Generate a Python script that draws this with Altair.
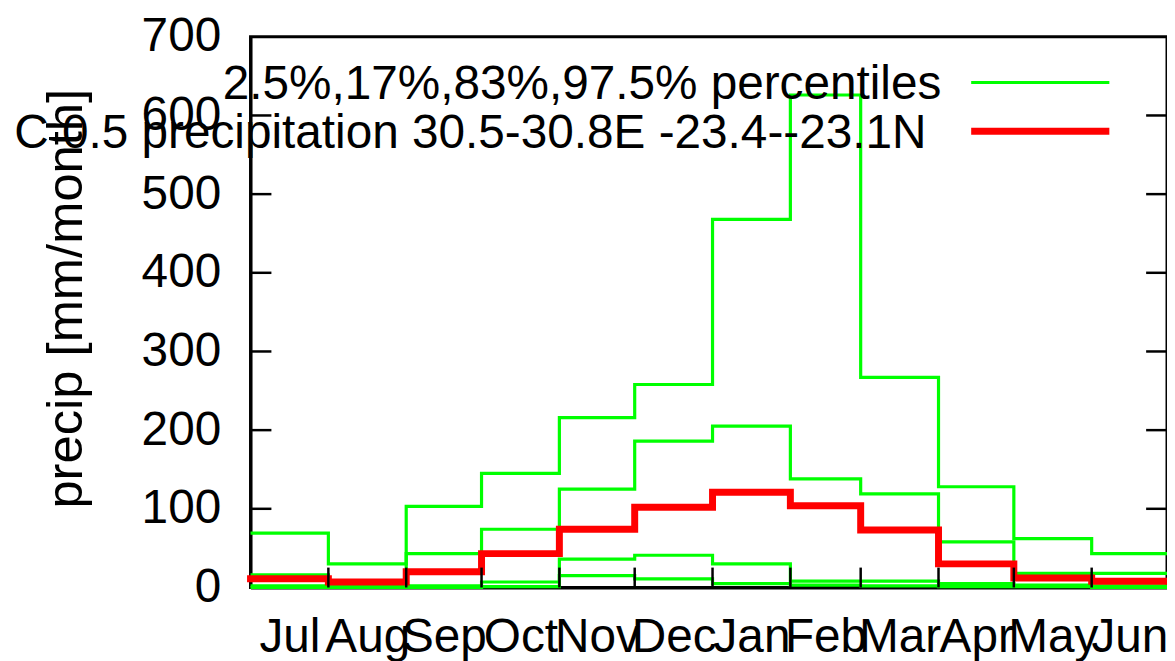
import json
import altair as alt
import pandas as pd

# ---- data ----
months = ["Jul", "Aug", "Sep", "Oct", "Nov", "Dec", "Jan", "Feb", "Mar", "Apr", "May", "Jun"]
month_days = [31, 31, 30, 31, 30, 31, 31, 28, 31, 30, 31, 30]

p2_5 = [0, 0, 0, 1, 15, 11, 5, 3, 2, 1, 1, 0]
p17 = [2, 1, 2, 7, 36, 41, 30, 8, 8, 5, 3, 2]
p83 = [16, 6, 43, 74, 125, 186, 205, 138, 119, 58, 18, 18]
p97_5 = [69, 30, 103, 145, 216, 258, 468, 626, 267, 128, 62, 43]
obs = [11, 7, 20, 43, 74, 102, 121, 104, 73, 30, 12, 8]

y_ticks = [0, 100, 200, 300, 400, 500, 600, 700]
legend_labels = [
    "2.5%,17%,83%,97.5% percentiles",
    "C 0.5 precipitation 30.5-30.8E -23.4--23.1N",
]

FONT = "Liberation Sans"
FS = 48
W, H = 922, 554

starts = []
acc = 0
for d in month_days:
    starts.append(acc)
    acc += d
total = acc
mids = [s + d / 2 for s, d in zip(starts, month_days)]
bounds = starts[1:]


def steps(name, vals):
    rows = [{"series": name, "day": s, "value": v} for s, v in zip(starts, vals)]
    rows.append({"series": name, "day": total, "value": vals[-1]})
    return rows


green_df = pd.DataFrame(
    steps("p2.5", p2_5) + steps("p17", p17) + steps("p83", p83) + steps("p97.5", p97_5)
)
red_df = pd.DataFrame(steps("obs", obs))

label_expr = "{}[indexof({}, datum.value)]".format(
    json.dumps(months).replace('"', "'"), json.dumps(mids)
)

x_axis = alt.Axis(
    values=mids,
    labelExpr=label_expr,
    ticks=False,
    grid=False,
    title=None,
    labelFontSize=FS,
    labelFont=FONT,
    labelColor="black",
    labelBaseline="alphabetic",
    labelPadding=64,
    labelOverlap=False,
    labelFlush=False,
    labelBound=False,
    domainColor="black",
    domainWidth=3,
)
y_axis = alt.Axis(
    values=y_ticks,
    ticks=False,
    grid=False,
    title="precip [mm/month]",
    titleFontSize=51,
    titleFont=FONT,
    titleFontWeight="normal",
    titleColor="black",
    titleAngle=270,
    titleBaseline="alphabetic",
    titleX=-170,
    titleY=263,
    labelFontSize=FS,
    labelFont=FONT,
    labelColor="black",
    labelPadding=30,
    domainColor="black",
    domainWidth=3,
)

xs = alt.Scale(domain=[0, total], nice=False, zero=False)
ys = alt.Scale(domain=[0, 700], nice=False)


def X(field):
    return alt.X(field, scale=xs, axis=x_axis)


def Y(field):
    return alt.Y(field, scale=ys, axis=y_axis)


green = alt.Chart(green_df).mark_line(
    interpolate="step-after", color="#00ff00", strokeWidth=3.2, clip=False
).encode(x=X("day:Q"), y=Y("value:Q"), detail="series:N")

red = alt.Chart(red_df).mark_line(
    interpolate="step-after", color="#ff0000", strokeWidth=7, strokeCap="square", clip=False
).encode(x=X("day:Q"), y=Y("value:Q"))

ytick_df = pd.DataFrame({"value": y_ticks[1:-1]})
ytick_left = alt.Chart(ytick_df).mark_rule(color="black", strokeWidth=2.5).encode(
    y=Y("value:Q"), x=alt.value(0), x2=alt.value(21)
)
ytick_right = alt.Chart(ytick_df).mark_rule(color="black", strokeWidth=2.5).encode(
    y=Y("value:Q"), x=alt.value(W - 21), x2=alt.value(W)
)
xtick_df = pd.DataFrame({"day": bounds})
xtick = alt.Chart(xtick_df).mark_rule(color="black", strokeWidth=2.5).encode(
    x=X("day:Q"), y=alt.value(H), y2=alt.value(H - 20)
)

leg1_df = pd.DataFrame({"t": [legend_labels[0]]})
leg2_df = pd.DataFrame({"t": [legend_labels[1]]})
leg1_text = alt.Chart(leg1_df).mark_text(
    align="right", baseline="alphabetic", font=FONT, fontSize=FS, color="black"
).encode(text="t:N", x=alt.value(695), y=alt.value(63))
leg2_text = alt.Chart(leg2_df).mark_text(
    align="right", baseline="alphabetic", font=FONT, fontSize=FS, color="black"
).encode(text="t:N", x=alt.value(680), y=alt.value(112))
leg1_line = alt.Chart(leg1_df).mark_rule(color="#00ff00", strokeWidth=3.2).encode(
    x=alt.value(725), x2=alt.value(864), y=alt.value(46)
)
leg2_line = alt.Chart(leg2_df).mark_rule(color="#ff0000", strokeWidth=7).encode(
    x=alt.value(725), x2=alt.value(864), y=alt.value(95)
)

chart = (
    alt.layer(green, red, ytick_left, ytick_right, xtick, leg1_text, leg2_text, leg1_line, leg2_line)
    .properties(
        width=W,
        height=H,
        autosize="none",
        padding={"left": 244, "top": 27, "right": 0, "bottom": 72},
        background="white",
    )
    .configure(font=FONT)
    .configure_view(stroke="black", strokeWidth=3)
)

chart.save("out.html", embed_options={"renderer": "svg", "actions": False})
